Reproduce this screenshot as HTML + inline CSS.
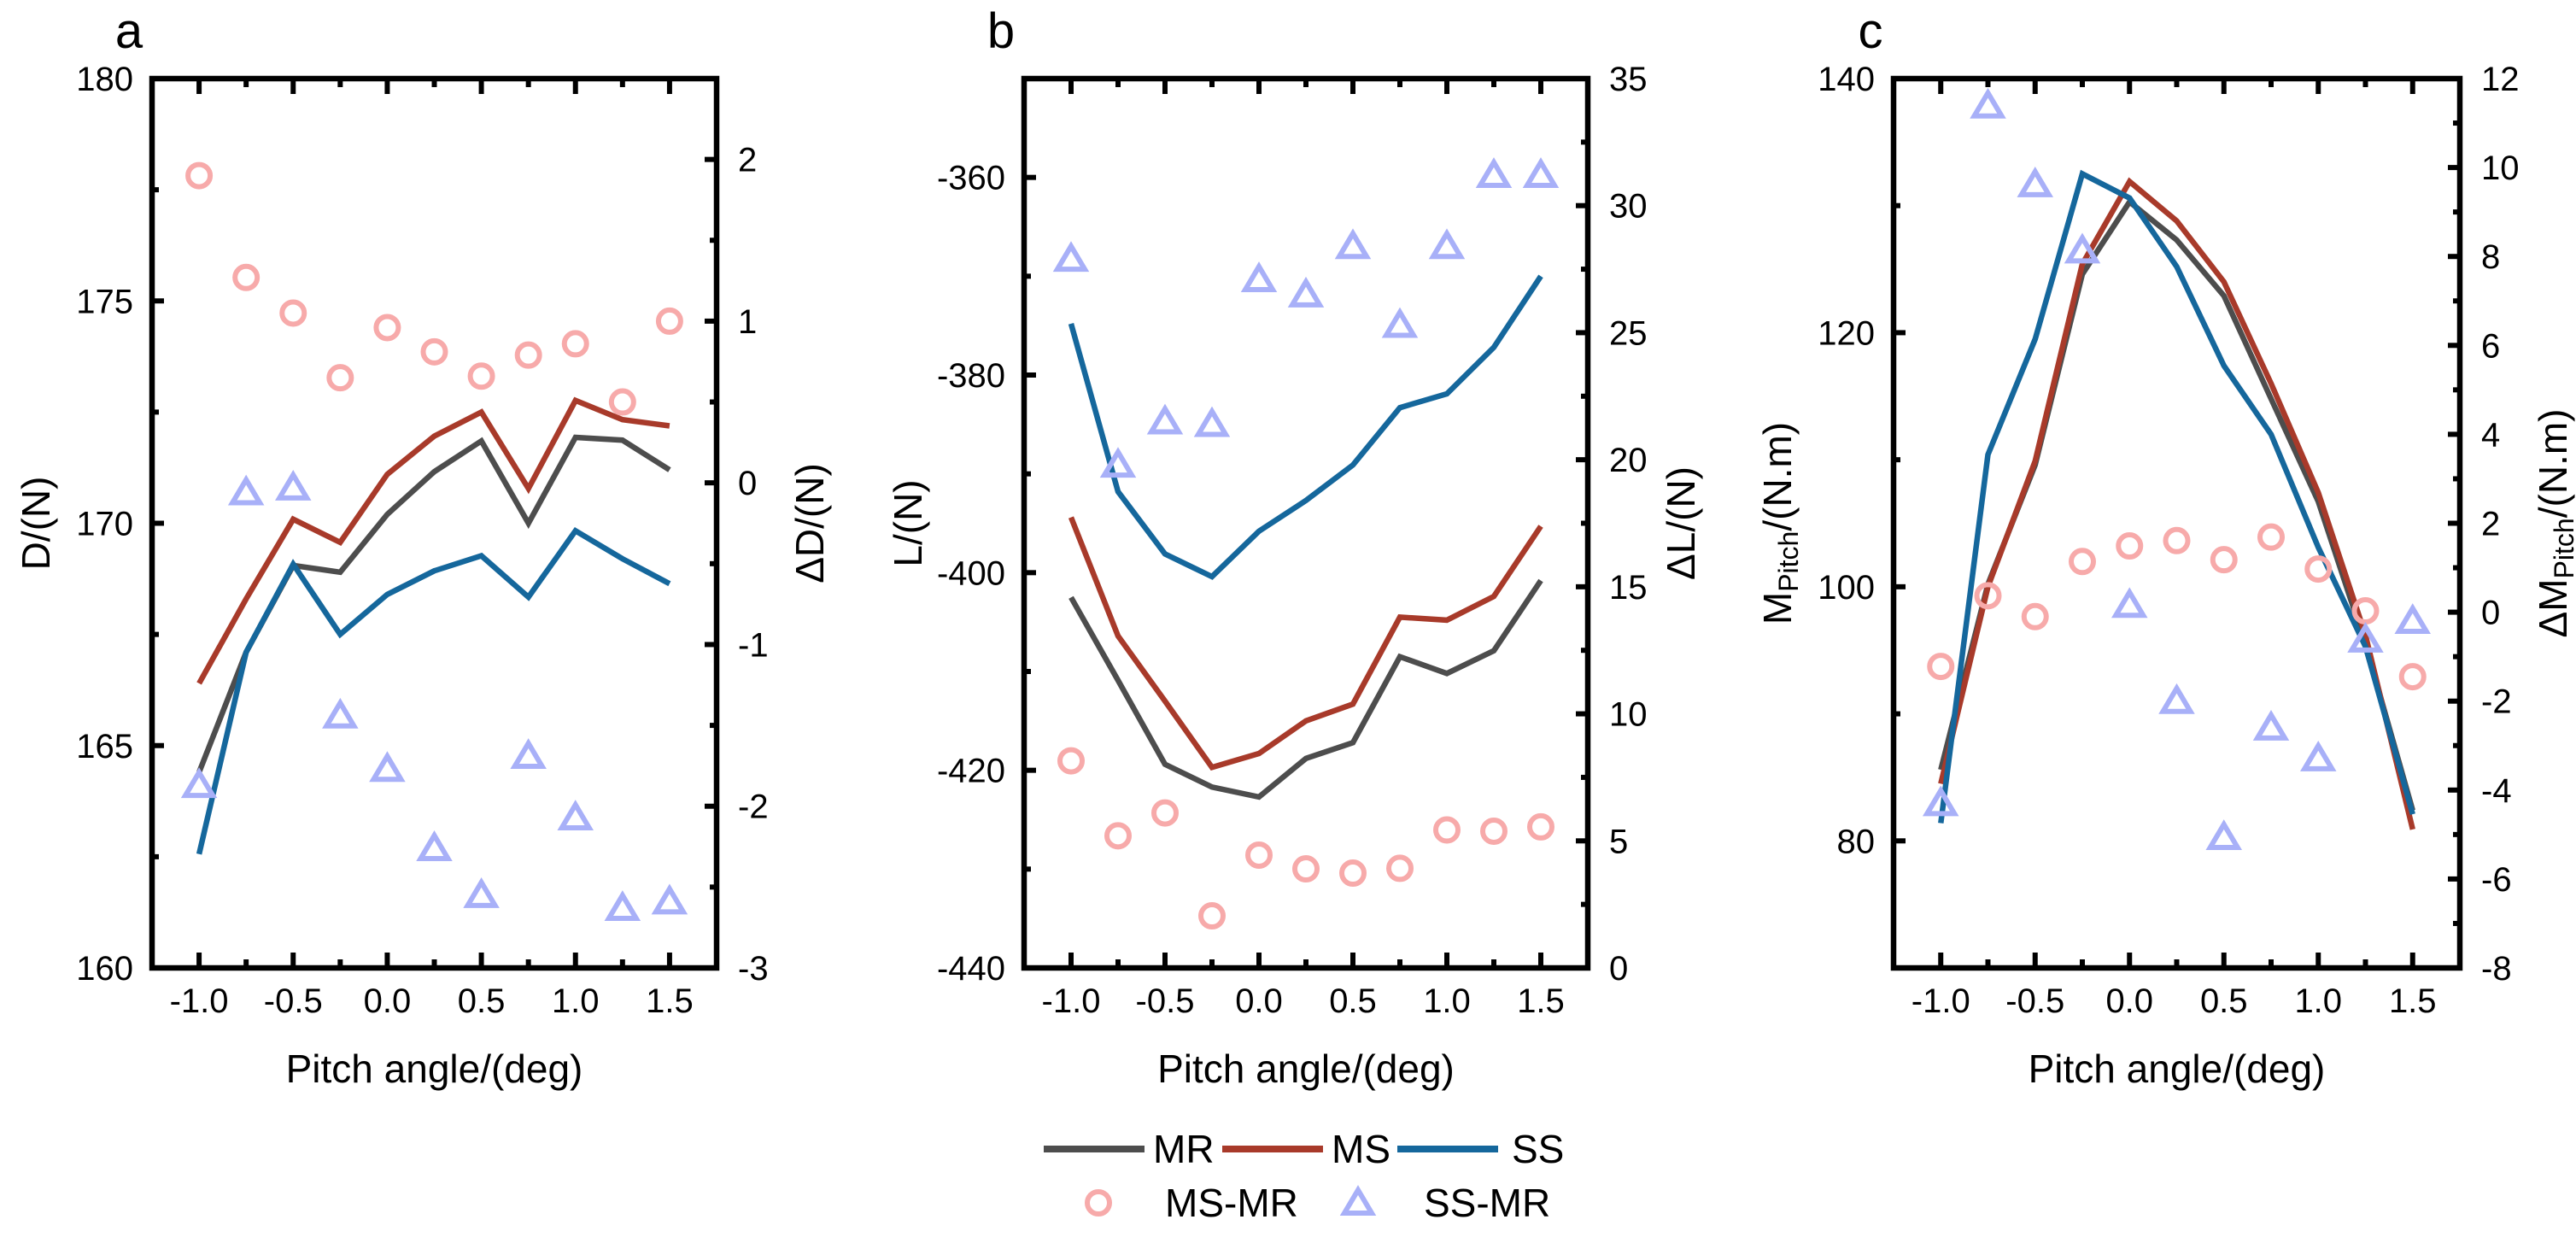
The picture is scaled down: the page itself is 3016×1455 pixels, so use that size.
<!DOCTYPE html>
<html><head><meta charset="utf-8">
<style>
html,body{margin:0;padding:0;background:#fff;}
svg{display:block;font-family:"Liberation Sans",Arial,sans-serif;}
</style></head>
<body>
<svg id="fig" width="3016" height="1455" viewBox="0 0 3016 1455" xmlns="http://www.w3.org/2000/svg"></svg>
<script>
// ---- shared data ----
const pitch = [-1.0,-0.75,-0.5,-0.25,0,0.25,0.5,0.75,1.0,1.25,1.5];
const xTicks = [-1.0,-0.5,0.0,0.5,1.0,1.5];
const xTickLabels = ["-1.0","-0.5","0.0","0.5","1.0","1.5"];

// panel a (drag)
const dragMR = [164.4,167.1,169.05,168.9,170.2,171.16,171.85,170.0,171.93,171.87,171.2];
const dragMS = [166.4,168.3,170.09,169.57,171.1,171.96,172.5,170.78,172.76,172.33,172.19];
const dragSS = [162.56,167.1,169.08,167.5,168.4,168.93,169.27,168.34,169.83,169.2,168.64];
const dragMSMR = [1.90,1.27,1.05,0.65,0.96,0.81,0.66,0.79,0.86,0.50,1.00];
const dragSSMR = [-1.87,-0.06,-0.03,-1.44,-1.77,-2.26,-2.55,-1.69,-2.07,-2.63,-2.59];
const dragLeftTicks = [160,165,170,175,180];
const dragRightTicks = [-3,-2,-1,0,1,2];

// panel b (lift)
const liftMR = [-402.5,-410.9,-419.4,-421.7,-422.7,-418.8,-417.2,-408.5,-410.2,-407.9,-400.8];
const liftMS = [-394.4,-406.4,-413.0,-419.7,-418.3,-415.0,-413.3,-404.5,-404.8,-402.4,-395.3];
const liftSS = [-374.8,-391.8,-398.1,-400.4,-395.8,-392.7,-389.1,-383.3,-381.9,-377.2,-370.0];
const liftMSMR = [8.15,5.2,6.1,2.05,4.44,3.9,3.73,3.92,5.43,5.38,5.55];
const liftSSMR = [27.9,19.8,21.5,21.4,27.1,26.5,28.4,25.3,28.4,31.2,31.2];
const liftLeftTicks = [-440,-420,-400,-380,-360];
const liftRightTicks = [0,5,10,15,20,25,30,35];

// panel c (pitch moment)
const momMR = [85.6,100.2,109.6,124.6,130.3,127.3,122.9,114.8,106.7,95.5,82.4];
const momMS = [84.5,100.0,109.9,125.4,131.9,128.8,124.0,116.0,107.4,96.2,80.9];
const momSS = [81.4,110.4,119.5,132.5,130.6,125.2,117.4,112.0,103.1,95.3,82.1];
const momMSMR = [-1.22,0.37,-0.1,1.14,1.49,1.61,1.18,1.69,0.97,0.03,-1.45];
const momSSMR = [-4.30,11.39,9.62,8.13,0.16,-2.0,-5.06,-2.6,-3.29,-0.62,-0.2];
const momLeftTicks = [80,100,120,140];
const momRightTicks = [-8,-6,-4,-2,0,2,4,6,8,10,12];

const C_MR="#4d4d4d", C_MS="#a83a2a", C_SS="#15679c", C_CIRC="#f7aaaa", C_TRI="#a8b0f8";
const NS="http://www.w3.org/2000/svg";
const svg=document.getElementById('fig');
function mk(tag,attrs,parent){const e=document.createElementNS(NS,tag);for(const k in attrs)e.setAttribute(k,attrs[k]);(parent||svg).appendChild(e);return e;}

const TOP=92, BOT=1133;

function panel(cfg){
  const g=mk('g',{});
  
  
  const L=cfg.x0, R=cfg.x1;
  const xs=v=>L+(v-(-1.25))/(3.0)*(R-L);
  const yl=v=>BOT-(v-cfg.lmin)/(cfg.lmax-cfg.lmin)*(BOT-TOP);
  const yr=v=>BOT-(v-cfg.rmin)/(cfg.rmax-cfg.rmin)*(BOT-TOP);
  // series lines
  const series=[[cfg.mr,C_MR,'line-mr'],[cfg.ms,C_MS,'line-ms'],[cfg.ss,C_SS,'line-ss']];
  series.forEach(s=>{
    const pts=pitch.map((p,i)=>xs(p).toFixed(1)+','+yl(s[0][i]).toFixed(1)).join(' ');
    const pl=mk('polyline',{points:pts,fill:'none',stroke:s[1],'stroke-width':6.5,'stroke-linejoin':'miter'},g);
    
    
  });
  // markers
  pitch.forEach((p,i)=>{
    const c=mk('circle',{cx:xs(p),cy:yr(cfg.msmr[i]),r:13,fill:'none',stroke:C_CIRC,'stroke-width':6},g);
    
    
  });
  pitch.forEach((p,i)=>{
    const cx=xs(p), cy=yr(cfg.ssmr[i]);
    const t=mk('polygon',{points:`${cx},${cy-15} ${cx+16},${cy+12} ${cx-16},${cy+12}`,fill:'none',stroke:C_TRI,'stroke-width':6,'stroke-linejoin':'miter'},g);
    
    
  });
  // frame
  const fr=mk('rect',{x:L,y:TOP,width:R-L,height:BOT-TOP,fill:'none',stroke:'#000','stroke-width':6.5},g);
  
  
  // x ticks (inward, top & bottom), minor at quarter
  for(let v=-1.0;v<=1.5001;v+=0.25){
    const major=Math.abs(v*2-Math.round(v*2))<1e-6;
    const len=major?18:10;
    mk('line',{x1:xs(v),x2:xs(v),y1:BOT,y2:BOT-len,stroke:'#000','stroke-width':6},g);
    mk('line',{x1:xs(v),x2:xs(v),y1:TOP,y2:TOP+len,stroke:'#000','stroke-width':6},g);
  }
  xTicks.forEach((v,i)=>{
    const t=mk('text',{x:xs(v),y:1185,'font-size':40,'text-anchor':'middle'},g);
    t.textContent=xTickLabels[i];
    
    
  });
  // left ticks
  const ls=cfg.lstep;
  for(let v=cfg.lmin;v<=cfg.lmax+1e-6;v+=ls/2){
    const major=cfg.lticks.some(t=>Math.abs(t-v)<1e-6);
    mk('line',{x1:L,x2:L+(major?14:8),y1:yl(v),y2:yl(v),stroke:'#000','stroke-width':6},g);
  }
  cfg.lticks.forEach(v=>{
    const t=mk('text',{x:L-22,y:yl(v)+14,'font-size':40,'text-anchor':'end'},g);
    t.textContent=String(v);
    
    
  });
  // right ticks
  const rs=cfg.rstep;
  for(let v=cfg.rmin;v<=cfg.rmax+1e-6;v+=rs/2){
    const major=cfg.rticks.some(t=>Math.abs(t-v)<1e-6);
    mk('line',{x1:R,x2:R-(major?14:8),y1:yr(v),y2:yr(v),stroke:'#000','stroke-width':6},g);
  }
  cfg.rticks.forEach(v=>{
    const t=mk('text',{x:R+25,y:yr(v)+14,'font-size':40,'text-anchor':'start'},g);
    t.textContent=String(v);
    
    
  });
  // titles
  const xt=mk('text',{x:(L+R)/2,y:1267,'font-size':46,'text-anchor':'middle'},g);
  xt.textContent='Pitch angle/(deg)';
  
  
  const cy=(TOP+BOT)/2;
  const lt=mk('text',{x:0,y:0,'font-size':46,'text-anchor':'middle',transform:`translate(${L-120},${cy}) rotate(-90)`},g);
  lt.innerHTML=cfg.ltitle;
  
  
  const rt=mk('text',{x:0,y:0,'font-size':46,'text-anchor':'middle',transform:`translate(${R+125},${cy}) rotate(-90)`},g);
  rt.innerHTML=cfg.rtitle;
  
  
  const pl=mk('text',{x:L-27,y:56,'font-size':58,'text-anchor':'middle'},g);
  pl.textContent=cfg.letter;
  
  
}

panel({name:'panel-a-drag',letter:'a',x0:178,x1:839,mr:dragMR,ms:dragMS,ss:dragSS,msmr:dragMSMR,ssmr:dragSSMR,
  lmin:160,lmax:180,lstep:5,lticks:dragLeftTicks,rmin:-3,rmax:2.5,rstep:1,rticks:dragRightTicks,
  ltitle:'D/(N)',rtitle:'ΔD/(N)'});
panel({name:'panel-b-lift',letter:'b',x0:1199,x1:1859,mr:liftMR,ms:liftMS,ss:liftSS,msmr:liftMSMR,ssmr:liftSSMR,
  lmin:-440,lmax:-350,lstep:20,lticks:liftLeftTicks,rmin:0,rmax:35,rstep:5,rticks:liftRightTicks,
  ltitle:'L/(N)',rtitle:'ΔL/(N)'});
panel({name:'panel-c-moment',letter:'c',x0:2217,x1:2880,mr:momMR,ms:momMS,ss:momSS,msmr:momMSMR,ssmr:momSSMR,
  lmin:70,lmax:140,lstep:20,lticks:momLeftTicks,rmin:-8,rmax:12,rstep:2,rticks:momRightTicks,
  ltitle:'M<tspan font-size="32" dy="8">Pitch</tspan><tspan dy="-8">/(N.m)</tspan>',
  rtitle:'ΔM<tspan font-size="32" dy="8">Pitch</tspan><tspan dy="-8">/(N.m)</tspan>'});

// legend
const leg=mk('g',{});


const legLines=[[1222,1340,1350,C_MR,'MR'],[1431,1549,1559,C_MS,'MS'],[1636,1754,1770,C_SS,'SS']];
legLines.forEach(d=>{
  const e=mk('g',{},leg);
  
  
  mk('line',{x1:d[0],x2:d[1],y1:1345,y2:1345,stroke:d[3],'stroke-width':8},e);
  const t=mk('text',{x:d[2],y:1361,'font-size':46},e);t.textContent=d[4];
});
const e1=mk('g',{},leg);


mk('circle',{cx:1286,cy:1408,r:13,fill:'none',stroke:C_CIRC,'stroke-width':6},e1);
const t1=mk('text',{x:1364,y:1424,'font-size':46},e1);t1.textContent='MS-MR';
const e2=mk('g',{},leg);


mk('polygon',{points:'1590,1393 1606,1420 1574,1420',fill:'none',stroke:C_TRI,'stroke-width':6},e2);
const t2=mk('text',{x:1667,y:1424,'font-size':46},e2);t2.textContent='SS-MR';
</script>
</body></html>
